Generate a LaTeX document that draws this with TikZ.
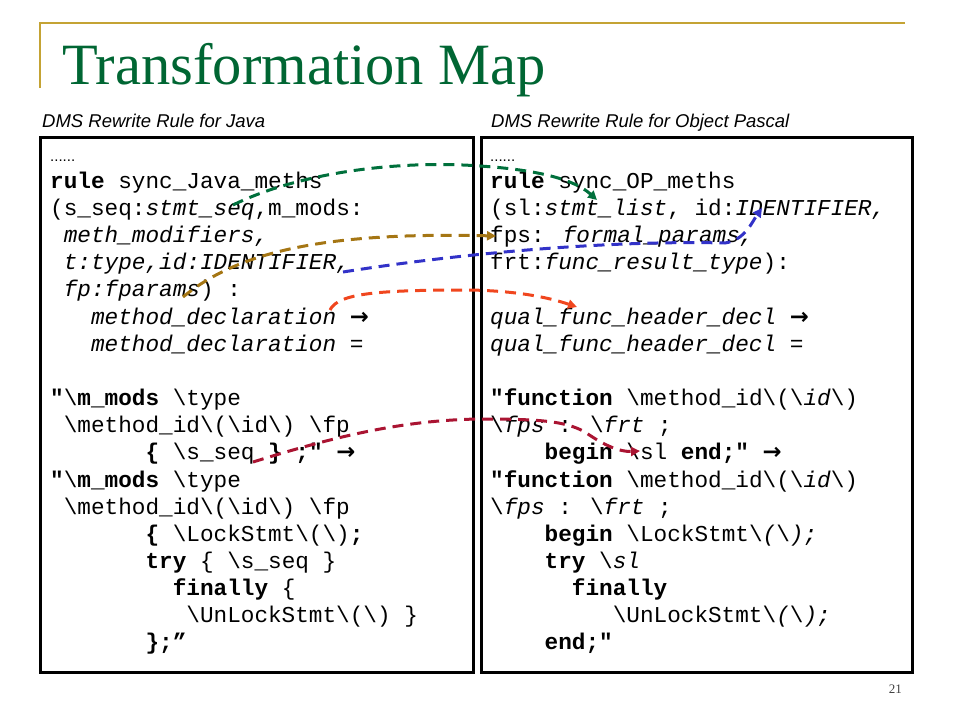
\documentclass[tikz,border=0pt]{standalone}
\usepackage{fontspec}
\usetikzlibrary{positioning, arrows.meta}

\newfontfamily\codefont{Liberation Mono}
\newfontfamily\labelfont{Liberation Sans}
\newfontfamily\titlefont{Liberation Serif}
\newfontfamily\arrowfont{DejaVu Sans}

\definecolor{titlegreen}{RGB}{0,102,51}
\definecolor{rulegold}{RGB}{196,163,52}
\definecolor{mapgreen}{RGB}{0,112,60}
\definecolor{mapbrown}{RGB}{165,118,20}
\definecolor{mapblue}{RGB}{50,50,200}
\definecolor{maporange}{RGB}{240,70,30}
\definecolor{mapred}{RGB}{170,20,50}

\newlength{\codechar}
\setlength{\codechar}{13.62pt}
\newcommand{\bsl}{\textbackslash}
\newcommand{\codeind}[1]{\hspace*{#1\codechar}}
\newcommand{\maparrow}{{\arrowfont\bfseries →}}
\newcommand{\codedots}{{\labelfont\fontsize{15}{18}\selectfont ......}\rule{0pt}{20pt}}

\tikzset{
	codeblock/.style={anchor=north west, inner sep=0pt, align=left, font={\codefont\fontsize{22.7}{27.15}\selectfont}},
	rulebox/.style={draw=black, line width=3pt},
	mapline/.style={line width=3pt, dash pattern=on 11pt off 7pt, -{Triangle[length=9pt,width=9pt]}}
}

\begin{document}
\begin{tikzpicture}[x=1pt, y=-1pt]
	\useasboundingbox (0,0) rectangle (960,720);
	\draw [rulegold, line width=2pt] (40,88) -- (40,23) -- (905,23);
	\node[anchor=base west, inner sep=0pt, text=titlegreen, font={\titlefont\fontsize{58.5}{60}\selectfont}] (title) at (62,84) {Transformation Map};

	\node[anchor=base west, inner sep=0pt, font={\labelfont\itshape\fontsize{18.5}{22}\selectfont}] (java label) at (42,127) {DMS Rewrite Rule for Java};
	\node[anchor=base west, inner sep=0pt, font={\labelfont\itshape\fontsize{18.5}{22}\selectfont}] (op label) at (491,127) {DMS Rewrite Rule for Object Pascal};

	\draw [rulebox] (40,137) rectangle (473,672);
	\draw [rulebox] (481,137) rectangle (912,672);

	\node[codeblock] (java rule) at (50,141) {\codedots\\
		\textbf{rule} sync\_Java\_meths\\
		(s\_seq:\textit{stmt\_seq},m\_mods:\\
		\codeind{1}\textit{meth\_modifiers,}\\
		\codeind{1}\textit{t:type,id:IDENTIFIER,}\\
		\codeind{1}\textit{fp:fparams}) :\\
		\codeind{3}\textit{method\_declaration} \maparrow\\
		\codeind{3}\textit{method\_declaration =}\\
		\mbox{}\\
		\textbf{"}\bsl\textbf{m\_mods} \bsl type\\
		\codeind{1}\bsl method\_id\bsl(\bsl id\bsl) \bsl fp\\
		\codeind{7}\textbf{\{} \bsl s\_seq \textbf{\} ;"} \maparrow\\
		\textbf{"}\bsl\textbf{m\_mods} \bsl type\\
		\codeind{1}\bsl method\_id\bsl(\bsl id\bsl) \bsl fp\\
		\codeind{7}\textbf{\{} \bsl LockStmt\bsl(\bsl)\textbf{;}\\
		\codeind{7}\textbf{try} \{ \bsl s\_seq \}\\
		\codeind{9}\textbf{finally} \{\\
		\codeind{10}\bsl UnLockStmt\bsl(\bsl) \}\\
		\codeind{7}\textbf{\};”}};

	\node[codeblock] (op rule) at (490,141) {\codedots\\
		\textbf{rule} sync\_OP\_meths\\
		(sl:\textit{stmt\_list}, id:\textit{IDENTIFIER,}\\
		fps: \textit{formal\_params,}\\
		frt:\textit{func\_result\_type}):\\
		\mbox{}\\
		\textit{qual\_func\_header\_decl} \maparrow\\
		\textit{qual\_func\_header\_decl =}\\
		\mbox{}\\
		\textbf{"function} \bsl method\_id\bsl(\bsl\textit{id}\bsl)\\
		\bsl\textit{fps} : \bsl\textit{frt} ;\\
		\codeind{4}\textbf{begin} \bsl sl \textbf{end;"} \maparrow\\
		\textbf{"function} \bsl method\_id\bsl(\bsl\textit{id}\bsl)\\
		\bsl\textit{fps} : \bsl\textit{frt} ;\\
		\codeind{4}\textbf{begin} \bsl LockStmt\bsl\textit{(}\bsl\textit{);}\\
		\codeind{4}\textbf{try} \bsl\textit{sl}\\
		\codeind{6}\textbf{finally}\\
		\codeind{9}\bsl UnLockStmt\bsl\textit{(}\bsl\textit{);}\\
		\codeind{4}\textbf{end;"}};

	\node[anchor=base east, inner sep=0pt, text=black!75, font={\titlefont\fontsize{13}{15}\selectfont}] (page num) at (902,693) {21};

	% parameter mapping
	\coordinate (stmt seq) at (233,205);
	\coordinate (stmt list) at (597,200);
	\draw [mapline, mapgreen] (stmt seq)
		.. controls (300,172) and (400,160) .. (480,166)
		.. controls (540,170) and (575,180) .. (stmt list);

	\coordinate (fparams) at (183,297);
	\coordinate (formal params) at (496,236);
	\draw [mapline, mapbrown] (fparams)
		.. controls (240,250) and (330,232) .. (formal params);

	\coordinate (java ident) at (343,272);
	\coordinate (op ident) at (762,208);
	\draw [mapline, mapblue] (java ident)
		.. controls (450,255) and (600,240) .. (725,243)
		.. controls (745,240) and (752,222) .. (op ident);

	\coordinate (method decl) at (330,310);
	\coordinate (header decl) at (577,307);
	\draw [mapline, maporange] (method decl)
		.. controls (338,293) and (380,290) .. (470,290)
		.. controls (520,291) and (550,298) .. (header decl);

	\coordinate (java seq) at (253,462);
	\coordinate (op sl) at (640,451);
	\draw [mapline, mapred] (java seq)
		.. controls (330,438) and (400,420) .. (480,419)
		.. controls (540,419) and (565,421) .. (585,432)
		.. controls (605,446) and (620,452) .. (op sl);
\end{tikzpicture}
\end{document}
